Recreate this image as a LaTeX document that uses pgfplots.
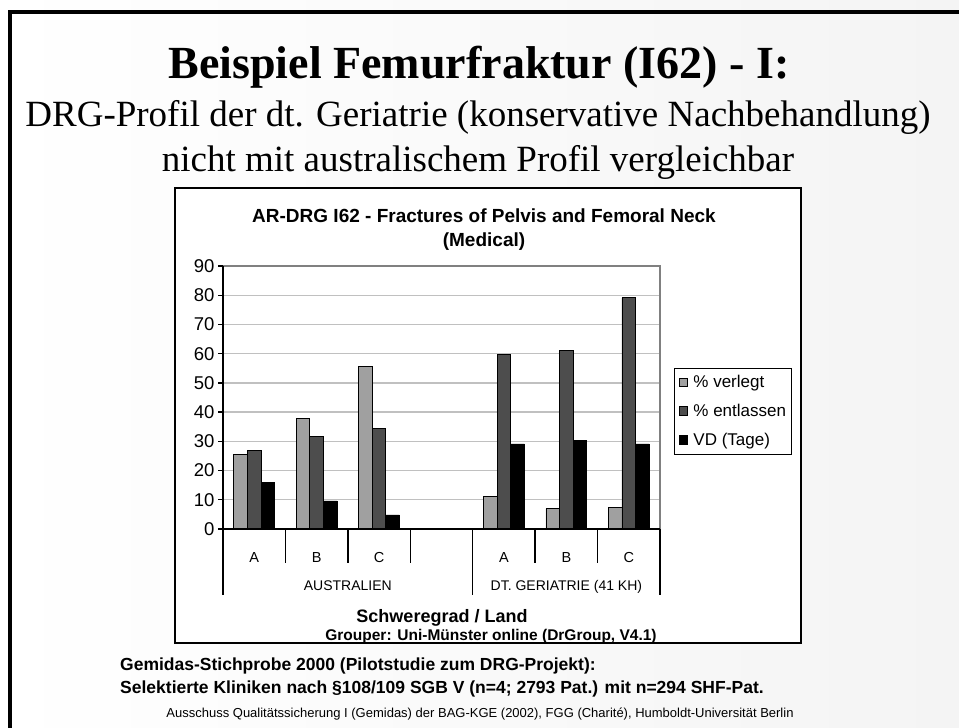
\documentclass[border=0pt]{standalone}
\usepackage{fontspec}
\setmainfont{Liberation Serif}
\setsansfont{Liberation Sans}
\usepackage{pgfplots}
\usepackage{pgfplotstable}
\pgfplotsset{compat=1.18}
\definecolor{cverl}{HTML}{A0A0A0}
\definecolor{centl}{HTML}{4D4D4D}
\definecolor{cvd}{HTML}{000000}
\definecolor{cgrid}{HTML}{C0C0C0}
\definecolor{slideL}{HTML}{FFFFFF}
\definecolor{slideR}{HTML}{F4F4F4}

\pgfplotstableread{
x verl entl vd
0 25.5 26.8 15.9
1 37.8 31.6 9.6
2 55.6 34.4 4.8
4 11.0 59.8 29.1
5 6.9 61.2 30.4
6 7.5 79.1 29.1
}\datatable

\begin{document}
\begin{tikzpicture}
\shade[left color=slideL, right color=slideR] (0pt,0pt) rectangle (959pt,-728pt);
\fill[black] (8pt,-10pt) rectangle (959pt,-13.5pt);
\fill[black] (8pt,-10pt) rectangle (11.5pt,-728pt);

\node[anchor=base, inner sep=0pt, font=\bfseries\fontsize{46}{50}\selectfont] at (479pt,-78pt) {Beispiel Femurfraktur (I62) - I:};
\node[anchor=base, inner sep=0pt, font=\fontsize{37}{42}\selectfont] at (478pt,-126pt) {DRG-Profil der dt. Geriatrie (konservative Nachbehandlung)};
\node[anchor=base, inner sep=0pt, font=\fontsize{37}{42}\selectfont] at (478pt,-171pt) {nicht mit australischem Profil vergleichbar};

\filldraw[fill=white, draw=black, line width=1.6pt] (175pt,-188pt) rectangle (801pt,-643pt);

\node[anchor=base, inner sep=0pt, font=\sffamily\bfseries\fontsize{19}{22}\selectfont] at (484pt,-222pt) {AR-DRG I62 - Fractures of Pelvis and Femoral Neck};
\node[anchor=base, inner sep=0pt, font=\sffamily\bfseries\fontsize{19}{22}\selectfont] at (484pt,-246pt) {(Medical)};
\node[anchor=base, inner sep=0pt, font=\sffamily\bfseries\fontsize{18}{22}\selectfont] at (442pt,-622pt) {Schweregrad / Land};
\node[anchor=base, inner sep=0pt, font=\sffamily\bfseries\fontsize{15.5}{18}\selectfont] at (491pt,-640pt) {Grouper: Uni-Münster online (DrGroup, V4.1)};

\begin{axis}[
  at={(223pt,-529pt)}, anchor=south west,
  width=437pt, height=263pt, scale only axis,
  xmin=-0.5, xmax=6.5, ymin=0, ymax=90,
  ytick={0,10,...,90},
  xtick={0,1,2,4,5,6}, xticklabels={A,B,C,A,B,C},
  xtick pos=bottom, ytick pos=left,
  tick align=outside,
  major tick length=5pt,
  major x tick style={draw=none},
  major y tick style={black, line width=1.3pt},
  xticklabel style={font=\sffamily\fontsize{14.5}{16}\selectfont, anchor=base, yshift=-28pt},
  yticklabel style={font=\sffamily\fontsize{18.5}{20}\selectfont, xshift=0pt},
  /pgf/number format/assume math mode=true,
  axis line style={draw=none},
  ymajorgrids, grid style={cgrid, line width=1.3pt},
  ybar=0pt, bar width=13.6pt,
  clip=false,
  legend style={at={(axis description cs:1.032,0.612)}, anchor=north west,
    draw=black, line width=1.2pt, fill=white,
    font=\sffamily\fontsize{17}{20}\selectfont,
    row sep=13pt, inner xsep=4pt, inner ysep=6pt,
    nodes={inner xsep=1.5pt, inner ysep=1pt}},
  legend cell align=left,
  legend image code/.code={\draw[#1, draw=black, line width=0.8pt] (0pt,-4pt) rectangle (8.5pt,4.5pt); \path (12.5pt,0pt);},
]
\addplot[fill=cverl, draw=black, line width=0.9pt] table[x=x,y=verl]{\datatable};
\addplot[fill=centl, draw=black, line width=0.9pt] table[x=x,y=entl]{\datatable};
\addplot[fill=cvd, draw=black, line width=0.9pt] table[x=x,y=vd]{\datatable};
\legend{\% verlegt,\% entlassen,VD (Tage)}
\draw[gray, line width=1.3pt] (rel axis cs:0,1) -- (rel axis cs:1,1) -- (rel axis cs:1,0);
\draw[black, line width=1.6pt] (rel axis cs:0,1) -- (rel axis cs:0,0) -- (rel axis cs:1,0);
\pgfplotsinvokeforeach{0.5,1.5,2.5,4.5,5.5}{\draw[black, line width=1.3pt] (axis cs:#1,0) -- ++(0pt,-34pt);}
\pgfplotsinvokeforeach{-0.5,3.5,6.5}{\draw[black, line width=1.3pt] (axis cs:#1,0) -- ++(0pt,-66pt);}
\node[anchor=base, font=\sffamily\fontsize{14}{16}\selectfont] at (axis cs:1.5,0) [yshift=-61pt] {AUSTRALIEN};
\node[anchor=base, font=\sffamily\fontsize{14}{16}\selectfont] at (axis cs:5,0) [yshift=-61pt] {DT. GERIATRIE (41 KH)};
\end{axis}

\node[anchor=base west, inner sep=0pt, font=\sffamily\bfseries\fontsize{17.5}{19}\selectfont] at (120pt,-670pt) {Gemidas-Stichprobe 2000 (Pilotstudie zum DRG-Projekt):};
\node[anchor=base west, inner sep=0pt, font=\sffamily\bfseries\fontsize{17.5}{19}\selectfont] at (120pt,-693pt) {Selektierte Kliniken nach §108/109 SGB V (n=4; 2793 Pat.) mit n=294 SHF-Pat.};
\node[anchor=base, inner sep=0pt, font=\sffamily\fontsize{13}{15}\selectfont] at (480pt,-717pt) {Ausschuss Qualitätssicherung I (Gemidas) der BAG-KGE (2002), FGG (Charité), Humboldt-Universität Berlin};
\end{tikzpicture}
\end{document}
